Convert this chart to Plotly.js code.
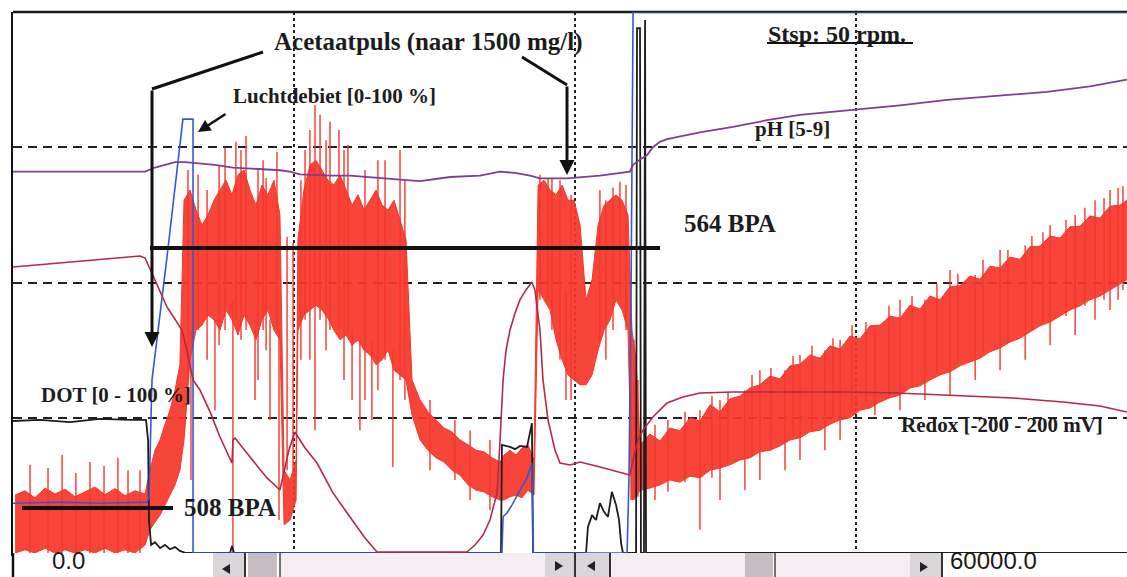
<!DOCTYPE html>
<html>
<head>
<meta charset="utf-8">
<script src="https://cdn.plot.ly/plotly-3.0.1.min.js"></script>
<style>
  html, body { margin: 0; padding: 0; background: #fff; overflow: hidden; }
  #chart { width: 1127px; height: 577px; }
</style>
</head>
<body>
<div id="chart"></div>
<script>
// Fermentation run, 0 – 60000 s. Left scale 0–100 % (DOT, air flow, BPA signal),
// pH on 5–9 and redox on -200…200 mV, both stretched over the full height.

// BPA signal (bright red, very noisy): upper and lower edge of the dense band, % of scale
const redT = [110,640,1170,1710,2240,2780,3310,3840,4380,4910,5450,5980,6510,7050,
  7310,7580,7850,8110,8380,8650,8910,
  9130,9450,9770,10090,10410,10730,11050,11370,11690,12010,12330,12650,12970,13290,13610,13930,14250,
  14470,14790,15110,
  15210,15530,15850,16170,16490,16810,17130,17460,17780,18100,18420,18740,19060,19380,19700,20020,20340,20660,20980,
  21300,21730,22150,22580,23010,23430,23860,24290,24720,25140,25570,26000,
  26210,26530,26850,27170,27490,27810,
  28030,28350,28670,28990,29310,29630,29950,30270,
  30590,30910,31230,31550,31870,32190,32510,32830,
  33040,33260,
  33470,34000,34540,35070,35600,36140,36670,37210,37740,38270,38810,39340,39870,40410,40940,41480,42010,42540,43080,43610,
  44150,44680,45210,45750,46280,46810,47350,47880,48420,48950,49480,50020,50550,51080,51620,52150,52690,53220,53750,54290,
  54820,55360,55890,56420,56960,57490,58020,58560,59090,59460];
const redHi = [10.7,11.5,10.2,12.0,10.9,11.8,10.4,11.3,12.2,10.8,11.9,10.6,11.5,10.9,
  15.3,19.0,20.9,23.7,26.4,30.1,34.8,
  65.2,67.1,63.4,60.6,62.5,65.2,67.1,68.9,66.2,69.9,70.8,67.1,64.3,68.0,66.2,68.9,62.5,
  15.3,13.5,17.2,
  57.9,67.1,71.7,72.6,70.8,68.9,68.0,69.9,67.1,64.3,66.2,63.4,65.2,67.1,64.3,63.4,65.2,61.6,57.9,
  32.0,28.3,26.1,24.6,23.1,22.4,20.9,20.0,19.0,18.7,17.6,16.8,
  18.1,19.0,18.1,19.4,20.0,17.2,
  68.0,68.9,67.1,66.2,68.0,65.2,65.2,60.6,
  46.8,50.5,60.6,64.3,65.2,66.2,65.2,62.5,
  41.2,35.7,
  20.0,22.0,20.7,23.1,22.6,25.0,24.4,27.4,26.1,28.5,29.0,30.5,31.1,32.7,32.2,34.6,34.9,36.6,36.0,38.3,
  37.7,40.1,39.6,42.0,42.1,43.8,43.4,45.8,45.1,47.5,46.8,49.2,49.4,51.2,50.6,53.0,52.7,54.7,54.3,56.6,
  56.7,58.6,58.2,60.3,60.4,62.3,61.9,64.1,64.3,65.2];
const redLo = [0,0.6,0,0.9,0,0.6,0,0.6,0,0.9,0,0.6,0,1.5,
  4.3,5.7,7.0,8.9,10.7,12.6,15.3,
  20.9,35.7,41.2,42.1,44.0,43.1,41.2,44.9,43.1,40.3,44.0,42.1,39.4,43.1,44.9,41.2,39.4,
  5.2,6.1,9.8,
  41.2,44.0,44.9,45.8,44.9,43.4,41.2,39.4,40.3,38.4,39.4,37.5,36.6,34.8,35.7,37.5,33.8,32.9,32.0,
  25.5,20.9,19.0,17.6,16.8,15.3,14.4,12.6,11.6,11.3,10.4,9.8,
  9.8,10.4,10.7,10.2,11.6,10.7,
  48.6,46.8,44.9,39.4,35.7,32.9,32.0,31.1,
  31.1,32.9,37.5,41.2,43.1,46.8,44.9,41.2,
  9.8,10.4,
  11.6,12.0,12.6,13.5,13.1,14.2,13.9,15.3,15.7,16.3,17.2,17.6,18.7,19.0,19.8,20.9,21.3,22.4,22.7,23.8,
  24.6,25.0,26.4,26.8,27.9,28.7,29.2,30.5,30.9,32.0,32.9,33.5,34.6,35.3,36.0,37.2,37.9,39.0,39.7,40.8,
  42.0,42.7,43.8,44.9,45.7,46.8,47.5,48.6,49.7,50.5];

// isolated spikes of the BPA signal reaching past the dense band
const spikeT = [910,1870,2620,3360,4110,4860,5600,6140,6780,
  9340,9500,9880,10360,10780,11000,11320,11740,11900,12170,12440,12920,13080,13350,13510,13720,14090,14200,14630,14950,
  15370,15590,15850,16120,16390,16710,16920,17400,17670,17880,18100,18520,18790,19160,19480,19860,20280,20660,20920,
  22260,23590,24400,25460,
  28130,28560,28770,29200,29520,29790,
  31330,31650,32030,32400,32720,32990,33150,33360,
  34270,34960,35870,36670,37310,37740,38170,39070,39450,39870,40460,41210,41640,42010,42650,43340,43770,44150,44790,
  45530,46010,46760,47350,47990,48680,49320,50020,50440,51360,51780,52690,53110,54030,54390,54980,55360,56210,56700,
  57220,57760,58240,58560,58990,59250];
const spikeHi = [16.3,15.7,18.1,14.8,16.8,16.1,17.6,15.3,15.3,
  70.8,41.2,69.9,67.1,43.1,71.7,74.9,46.8,76.0,74.5,77.1,41.2,70.8,72.6,69.3,43.1,74.1,41.2,58.4,57.3,
  68.9,74.5,78.2,82.8,81.0,76.3,79.7,78.2,74.5,75.4,41.2,39.4,70.8,39.4,72.6,72.6,37.5,74.5,68.9,
  28.3,24.6,22.7,20.9,
  69.9,69.3,69.3,68.9,48.6,66.2,
  67.1,65.2,67.5,68.6,68.0,41.2,39.4,32.0,
  23.7,24.6,26.1,26.4,29.0,28.3,29.8,30.1,32.9,33.8,34.2,33.8,36.4,36.6,38.3,37.5,39.7,39.4,42.1,
  42.7,41.2,45.7,46.8,47.5,46.8,49.7,52.3,51.6,51.4,54.2,56.0,56.0,56.9,58.6,59.3,60.6,61.6,62.5,
  63.8,65.2,65.6,67.1,67.5,67.8];
const spikeLo = [0,0,0,0,0,0,0,0,0,
  32.0,13.5,41.2,35.7,26.4,38.4,41.2,0,43.1,39.4,41.2,28.3,32.0,41.2,37.5,24.6,41.2,6.1,15.3,15.3,
  35.7,43.1,35.7,22.7,43.1,37.5,41.2,41.2,32.0,40.3,28.3,22.7,28.3,24.6,30.1,35.7,15.9,32.0,28.3,
  15.3,13.5,9.8,7.9,
  46.8,46.8,41.2,35.7,28.3,28.3,
  39.4,35.7,41.2,46.8,41.2,9.8,9.8,10.4,
  9.8,11.3,13.1,4.3,13.9,9.8,16.8,11.6,17.9,13.5,19.0,15.3,21.6,17.2,22.7,19.0,25.0,20.9,26.1,
  27.9,25.5,28.7,26.4,31.2,28.3,33.1,29.2,35.3,32.0,37.2,33.8,39.0,35.7,41.2,42.7,38.4,43.8,40.3,
  45.7,43.1,46.8,44.9,46.8,48.6];

// dissolved oxygen (DOT), %
const dotT = [0,1440,3040,4640,6250,7100,7210,7260,7370,7580,7850,8110,8380,8650,8910,9230,11580,11690,11800,
  26050,26100,26530,26800,27060,27440,27700,27760,30590,30690,30910,31120,31330,31550,31760,31970,32190,32350,
  32460,32560,33260,33310,33470,33520,33680,33740,33790,59460];
const dotV = [24.4,24.6,24.2,24.8,24.6,24.6,20.9,6.1,1.5,2.0,0.9,1.5,0.7,1.1,0.4,0,0,1.3,0,
  0,20.0,19.6,19.2,19.8,19.6,24.0,0,0,4.8,7.0,6.1,9.2,7.6,6.7,11.3,8.9,6.1,
  1.8,0,0,97.0,97.0,0,0,98.5,0,0];

// air flow (Luchtdebiet), %
const airT = [0,2510,4640,7150,7260,7370,7420,8220,8700,9070,9610,9610,26100,26160,26370,26640,27060,27440,27700,27760,
  32780,32880,32990,33040,33100,59460];
const airV = [9.2,9.4,9.2,9.4,10.2,22.7,32.0,54.7,68.9,80.2,80.2,0,0,6.7,7.4,8.9,11.6,13.9,16.6,0,
  0,13.5,46.8,74.5,100,100];

// pH (5–9)
const phT = [0,2510,4640,7050,7580,8110,8650,9180,9980,10780,11740,13190,14250,14790,15320,16920,17990,20660,21730,23330,
  24930,26000,26800,27600,28130,29570,31330,32930,33100,33470,33840,34160,34540,34910,35600,36670,38430,40250,42010,43610,
  44950,47350,49860,52690,55190,57490,59460];
const phV = [7.82,7.82,7.82,7.82,7.85,7.87,7.89,7.89,7.88,7.87,7.85,7.84,7.83,7.82,7.80,7.79,7.79,7.76,7.75,7.78,
  7.79,7.82,7.81,7.79,7.77,7.77,7.79,7.82,7.87,7.91,7.94,8.00,8.04,8.06,8.08,8.11,8.15,8.20,8.24,8.26,
  8.28,8.31,8.35,8.38,8.41,8.45,8.50];

// redox potential, mV
const rdxT = [0,2510,4640,6780,7050,7310,7580,8220,9020,9340,9610,9980,10520,11050,11690,11740,11850,12650,13560,14250,
  14470,14730,15050,15590,16230,17080,17990,18790,19430,24230,24660,25090,25460,25840,26000,26160,26320,26530,26800,27060,
  27380,27700,27860,28130,28290,28560,28930,29200,29730,30270,31330,32130,32930,33100,33360,33630,34160,34910,35760,36670,
  38430,40250,42010,44680,47190,50020,53380,56050,58020,59460];
const rdxV = [11.5,14.4,16.6,19.6,18.1,10.7,1.8,-18.1,-35.1,-53.6,-72.1,-79.5,-95.7,-114.2,-133.5,-116.5,-115.0,-129.0,-144.5,-153.4,
  -138.6,-123.8,-110.5,-122.4,-133.5,-155.6,-173.4,-188.9,-199.3,-199.3,-194.1,-186.7,-175.6,-155.6,-116.5,-72.1,-49.9,-35.1,-22.6,-12.9,
  -5.5,0.4,-5.5,-35.1,-72.1,-101.7,-123.8,-133.5,-134.9,-132.7,-136.4,-139.4,-142.3,-131.2,-116.5,-109.1,-99.4,-89.1,-84.7,-81.7,
  -81.0,-81.0,-81.0,-81.0,-81.7,-83.2,-85.4,-88.4,-91.3,-95.7];

// BPA reference levels marked on the chart (left scale, %)
const bpaLevels = [
  {label: '508 BPA', v: 8.3, t0: 480, t1: 8540},
  {label: '564 BPA', v: 56.4, t0: 7310, t1: 34540}
];

// ---------------------------------------------------------------------------
const T_MAX = 59466;                 // right edge of the visible window
const PX = px => (px - 13) / 1114;   // page pixel -> paper x
const PY = py => (553 - py) / 541;   // page pixel -> paper y

// band outline: along the upper edge, back along the lower edge
const bandX = redT.concat(redT.slice().reverse());
const bandY = redHi.concat(redLo.slice().reverse());

const spX = [], spY = [];
spikeT.forEach((t, i) => { spX.push(t, t, null); spY.push(spikeHi[i], spikeLo[i], null); });

const RED = '#f5372b';
const traces = [
  {x: bandX, y: bandY, mode: 'lines', fill: 'toself', fillcolor: 'rgba(246,55,42,0.93)',
   line: {color: RED, width: 1}, hoverinfo: 'skip'},
  {x: spX, y: spY, mode: 'lines', line: {color: RED, width: 1.4}, hoverinfo: 'skip'},
  {x: dotT, y: dotV, mode: 'lines', line: {color: '#1d1d1d', width: 1.8}},
  {x: airT, y: airV, mode: 'lines', line: {color: '#3558d2', width: 1.6}},
  {x: rdxT, y: rdxV, yaxis: 'y3', mode: 'lines', line: {color: '#b42948', width: 1.6}},
  {x: phT, y: phV, yaxis: 'y2', mode: 'lines', line: {color: '#7d3e96', width: 1.8}}
];

const serif = size => ({family: '"Liberation Serif","Times New Roman",serif', size: size, color: '#1c1c1c'});
const sans = size => ({family: '"Liberation Sans",Arial,sans-serif', size: size, color: '#1a1a1a'});

const label = (text, px, py, size) => ({
  text: '<b>' + text + '</b>', xref: 'paper', yref: 'paper', x: PX(px), y: PY(py),
  xanchor: 'left', yanchor: 'middle', showarrow: false, font: serif(size)
});
const arrow = (tipPx, tipPy, tailPx, tailPy, w) => ({
  text: '', xref: 'paper', yref: 'paper', x: PX(tipPx), y: PY(tipPy),
  ax: tailPx - tipPx, ay: tailPy - tipPy, showarrow: true,
  arrowhead: 2, arrowsize: 1, arrowwidth: w, arrowcolor: '#111'
});

const annotations = [
  label('Acetaatpuls (naar 1500 mg/l)', 272, 42, 25),
  label('Luchtdebiet [0-100 %]', 231, 96, 21),
  label('Stsp: 50 rpm.', 766, 34, 24),
  label('pH [5-9]', 753, 129, 21),
  label(bpaLevels[1].label, 682, 224, 25),
  label(bpaLevels[0].label, 182, 507, 25),
  label('DOT [0 - 100 %]', 39, 395, 21),
  label('Redox [-200 - 200 mV]', 899, 425, 21),
  arrow(152, 347, 152, 89, 3),
  arrow(567, 175, 567, 85, 3),
  arrow(198, 132, 227, 113, 2.5),
  {text: '0.0', xref: 'paper', yref: 'paper', x: PX(68), y: PY(576), xanchor: 'center', yanchor: 'bottom',
   showarrow: false, font: sans(24)},
  {text: '60000.0', xref: 'paper', yref: 'paper', x: PX(948), y: PY(576), xanchor: 'left', yanchor: 'bottom',
   showarrow: false, font: sans(24)}
];

// scroll bar under the plot
const rectP = (x0, x1, fill) => ({type: 'rect', xref: 'paper', yref: 'paper',
  x0: PX(x0), x1: PX(x1), y0: PY(577), y1: PY(553), fillcolor: fill, line: {width: 0}, layer: 'above'});
const vline = (px, color, w) => ({type: 'line', xref: 'paper', yref: 'paper',
  x0: PX(px), x1: PX(px), y0: PY(577), y1: PY(553), line: {color: color, width: w}});
const tri = pts => ({type: 'path', xref: 'paper', yref: 'paper',
  path: 'M' + pts.map(p => PX(p[0]) + ',' + PY(p[1])).join(' L') + ' Z',
  fillcolor: '#222', line: {width: 0}});
const seg = (x0, y0, x1, y1, w, color) => ({type: 'line', xref: 'paper', yref: 'paper',
  x0: PX(x0), y0: PY(y0), x1: PX(x1), y1: PY(y1), line: {color: color || '#111', width: w}});

const BTN = '#dad5d9', THUMB = '#c6bdc3', TRACK = '#f4eef2';
const shapes = [
  // frame top edge
  {type: 'line', xref: 'paper', yref: 'paper', x0: 0, x1: 1, y0: 1, y1: 1,
   line: {color: '#1a1a1a', width: 2.5}, layer: 'between'},
  // BPA levels
  ...bpaLevels.map(b => ({type: 'line', xref: 'x', yref: 'y', x0: b.t0, x1: b.t1, y0: b.v, y1: b.v,
    line: {color: '#111', width: 4}})),
  // call-out leaders
  seg(263, 52, 152, 89, 3),
  seg(522, 57, 567, 85, 3),
  // underline of the stirrer set point
  seg(767, 43, 913, 43, 2),
  // scroll bar
  rectP(13, 1127, '#ffffff'),
  rectP(213, 245, BTN), rectP(248, 277, THUMB), rectP(280, 545, TRACK),
  rectP(545, 575, BTN), rectP(576, 609, BTN), rectP(610, 745, TRACK),
  rectP(745, 773, THUMB), rectP(775, 910, TRACK), rectP(910, 941, BTN),
  vline(13, '#111', 2.5),
  vline(245, '#333', 2), vline(280, '#444', 1.5), vline(575, '#333', 2),
  vline(610, '#333', 2), vline(775, '#444', 1.5), vline(942, '#333', 2),
  tri([[230, 564], [222, 569], [230, 574]]),
  tri([[555, 561], [563, 566], [555, 571]]),
  tri([[595, 561], [587, 566], [595, 571]]),
  tri([[920, 562], [928, 567], [920, 572]])
];

const layout = {
  width: 1127, height: 577,
  margin: {l: 13, r: 0, t: 12, b: 24, pad: 0},
  paper_bgcolor: '#ffffff', plot_bgcolor: '#ffffff',
  showlegend: false,
  xaxis: {range: [0, T_MAX], tick0: 0, dtick: 15000, showgrid: true, gridcolor: '#222', gridwidth: 2,
    griddash: '3px,3px', zeroline: false, showticklabels: false, ticks: '',
    showline: true, linecolor: '#111', linewidth: 3, mirror: false, layer: 'above traces', fixedrange: true},
  yaxis: {range: [0, 100], tick0: 0, dtick: 25, showgrid: true, gridcolor: '#222', gridwidth: 2,
    griddash: '9px,6px', zeroline: false, showticklabels: false, ticks: '',
    showline: true, linecolor: '#111', linewidth: 2.5, mirror: false, layer: 'above traces', fixedrange: true},
  yaxis2: {range: [5, 9], overlaying: 'y', visible: false, fixedrange: true},
  yaxis3: {range: [-200, 200], overlaying: 'y', visible: false, fixedrange: true},
  annotations: annotations,
  shapes: shapes
};

Plotly.newPlot('chart', traces, layout, {staticPlot: true, displayModeBar: false});
</script>
</body>
</html>
